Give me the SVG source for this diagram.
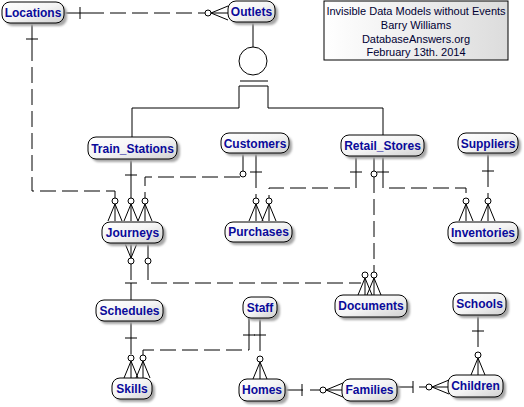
<svg xmlns="http://www.w3.org/2000/svg" xmlns:xlink="http://www.w3.org/1999/xlink" width="524" height="407" viewBox="0 0 524 407">
<style>
.box{fill:url(#ng);stroke:#000;stroke-width:1}
.sh{fill:#a6a6a6;filter:url(#blur)}
.lbl{font-family:"Liberation Sans",Arial,sans-serif;font-size:12px;font-weight:bold;fill:#0a0a9a;text-anchor:middle}
.sol{fill:none;stroke:#000;stroke-width:1}
.dsh{fill:none;stroke:#000;stroke-width:1;stroke-dasharray:16 6}
.ttl{font-family:"Liberation Sans",Arial,sans-serif;font-size:11px;fill:#000033;text-anchor:middle}
</style>
<defs>
<filter id="blur" x="-20%" y="-40%" width="140%" height="180%"><feGaussianBlur stdDeviation="0.9"/></filter>
<linearGradient id="ng" x1="0" y1="0" x2="1" y2="1">
<stop offset="0" stop-color="#ffffff"/>
<stop offset="0.5" stop-color="#f4f4f4"/>
<stop offset="1" stop-color="#d0d0d0"/>
</linearGradient>
<linearGradient id="tg" x1="0" y1="0" x2="1" y2="0">
<stop offset="0" stop-color="#ffffff"/>
<stop offset="1" stop-color="#dcdcdc"/>
</linearGradient>
<g id="cf">
<path d="M0,3 L-7,20 M0,3 L0,20 M0,3 L7,20" fill="none" stroke="#000"/>
<circle cx="0" cy="0" r="3" fill="#fff" stroke="#000"/>
</g>
</defs>
<rect width="524" height="407" fill="#fff"/>

<g id="title">
<rect x="324" y="1" width="184" height="59" fill="url(#tg)" stroke="#000"/>
<text class="ttl" x="416" y="15">Invisible Data Models without Events</text>
<text class="ttl" x="416" y="29">Barry Williams</text>
<text class="ttl" x="416" y="43">DatabaseAnswers.org</text>
<text class="ttl" x="416" y="56">February 13th. 2014</text>
</g>

<g id="connectors">
<!-- Outlets subtype -->
<path class="sol" d="M253,22 V47 M240,81 H268 M132,137 V108 H239 V86 H268 V108 H383 V135"/>
<circle cx="253" cy="61" r="14" fill="#fff" stroke="#000"/>
<!-- Locations-Outlets -->
<path class="sol" d="M64,13 H88 M80,7 V19"/>
<path class="dsh" d="M88,13 H205"/>
<use xlink:href="#cf" transform="translate(208,13) rotate(-90)"/>
<!-- Locations-Journeys -->
<path class="sol" d="M32,23 V45 M26,39 H38"/>
<path class="dsh" d="M32,45 V191 H115 V198"/>
<use xlink:href="#cf" x="115" y="201"/>
<!-- Train_Stations-Journeys -->
<path class="sol" d="M131,159 V198 M125,175 H137"/>
<use xlink:href="#cf" x="131" y="201"/>
<!-- Customers-Journeys -->
<path class="sol" d="M243,153 V171"/>
<path class="dsh" d="M240,177 H145 V198"/>
<circle cx="243" cy="174" r="3" fill="#fff" stroke="#000"/>
<use xlink:href="#cf" x="145" y="201"/>
<!-- Customers-Purchases -->
<path class="sol" d="M256,153 V172 M250,172 H262"/>
<path class="dsh" d="M256,172 V198"/>
<use xlink:href="#cf" x="256" y="201"/>
<!-- Retail_Stores-Purchases -->
<path class="sol" d="M356,156 V172 M350,172 H362"/>
<path class="dsh" d="M356,172 V188 H269 V198"/>
<use xlink:href="#cf" x="269" y="201"/>
<!-- Retail_Stores-Documents -->
<path class="sol" d="M374,156 V171"/>
<circle cx="374" cy="174" r="3" fill="#fff" stroke="#000"/>
<path class="dsh" d="M374,177 V272"/>
<use xlink:href="#cf" x="374" y="275"/>
<!-- Retail_Stores-Inventories -->
<path class="sol" d="M383,156 V172 M377,172 H389"/>
<path class="dsh" d="M383,172 V188 H466 V198"/>
<use xlink:href="#cf" x="466" y="201"/>
<!-- Suppliers-Inventories -->
<path class="sol" d="M488,153 V171 M482,171 H494"/>
<path class="dsh" d="M488,171 V198"/>
<use xlink:href="#cf" x="488" y="201"/>
<!-- Journeys-Schedules -->
<use xlink:href="#cf" transform="translate(131,261) rotate(180)"/>
<path class="dsh" d="M131,264 V283"/>
<path class="sol" d="M131,283 V300 M125,283 H137"/>
<!-- Journeys-Documents -->
<path class="sol" d="M148,243 V258"/>
<circle cx="148" cy="261" r="3" fill="#fff" stroke="#000"/>
<path class="dsh" d="M148,264 V283 H361"/>
<use xlink:href="#cf" x="365" y="275"/>
<!-- Schedules-Skills -->
<path class="sol" d="M131,321 V338 M125,338 H137"/>
<path class="dsh" d="M131,338 V355"/>
<use xlink:href="#cf" x="131" y="358"/>
<!-- Staff-Skills -->
<path class="sol" d="M249,318 V335 M243,335 H255"/>
<path class="dsh" d="M249,335 V350 H143 V355"/>
<use xlink:href="#cf" x="143" y="358"/>
<!-- Staff-Homes -->
<path class="sol" d="M260,318 V335 M254,335 H266"/>
<path class="dsh" d="M260,335 V356"/>
<use xlink:href="#cf" x="260" y="359"/>
<!-- Homes-Families -->
<path class="sol" d="M285,390 H303 M302,384 V396"/>
<path class="dsh" d="M310,390 H320"/>
<use xlink:href="#cf" transform="translate(323,390) rotate(-90)"/>
<!-- Families-Children -->
<path class="sol" d="M397,387 H413 M413,381 V393"/>
<path class="dsh" d="M419,387 H426"/>
<use xlink:href="#cf" transform="translate(429,387) rotate(-90)"/>
<!-- Schools-Children -->
<path class="sol" d="M478,315 V331 M472,331 H484"/>
<path class="dsh" d="M478,331 V352"/>
<use xlink:href="#cf" x="478" y="355"/>
</g>

<g id="Locations"><rect class="sh" x="5" y="5" width="62" height="21" rx="8"/><rect class="box" x="2" y="2" width="62" height="21" rx="8"/><text class="lbl" x="33" y="17">Locations</text></g>
<g id="Outlets"><rect class="sh" x="231" y="4" width="47" height="21" rx="8"/><rect class="box" x="228" y="1" width="47" height="21" rx="8"/><text class="lbl" x="251.5" y="16">Outlets</text></g>
<g id="Train_Stations"><rect class="sh" x="91" y="140" width="89" height="22" rx="8"/><rect class="box" x="88" y="137" width="89" height="22" rx="8"/><text class="lbl" x="132.5" y="153">Train_Stations</text></g>
<g id="Customers"><rect class="sh" x="224" y="136" width="68" height="20" rx="8"/><rect class="box" x="221" y="133" width="68" height="20" rx="8"/><text class="lbl" x="255" y="148">Customers</text></g>
<g id="Retail_Stores"><rect class="sh" x="344" y="138" width="83" height="21" rx="8"/><rect class="box" x="341" y="135" width="83" height="21" rx="8"/><text class="lbl" x="382.5" y="150">Retail_Stores</text></g>
<g id="Suppliers"><rect class="sh" x="461" y="136" width="60" height="20" rx="8"/><rect class="box" x="458" y="133" width="60" height="20" rx="8"/><text class="lbl" x="488" y="148">Suppliers</text></g>
<g id="Journeys"><rect class="sh" x="105" y="225" width="61" height="21" rx="8"/><rect class="box" x="102" y="222" width="61" height="21" rx="8"/><text class="lbl" x="132.5" y="237">Journeys</text></g>
<g id="Purchases"><rect class="sh" x="228" y="225" width="67" height="20" rx="8"/><rect class="box" x="225" y="222" width="67" height="20" rx="8"/><text class="lbl" x="258.5" y="236">Purchases</text></g>
<g id="Inventories"><rect class="sh" x="451" y="225" width="70" height="21" rx="8"/><rect class="box" x="448" y="222" width="70" height="21" rx="8"/><text class="lbl" x="483" y="237">Inventories</text></g>
<g id="Schedules"><rect class="sh" x="99" y="303" width="67" height="21" rx="8"/><rect class="box" x="96" y="300" width="67" height="21" rx="8"/><text class="lbl" x="129.5" y="315">Schedules</text></g>
<g id="Staff"><rect class="sh" x="246" y="300" width="34" height="21" rx="8"/><rect class="box" x="243" y="297" width="34" height="21" rx="8"/><text class="lbl" x="260" y="312">Staff</text></g>
<g id="Documents"><rect class="sh" x="338" y="298" width="72" height="22" rx="8"/><rect class="box" x="335" y="295" width="72" height="22" rx="8"/><text class="lbl" x="371" y="310">Documents</text></g>
<g id="Schools"><rect class="sh" x="456" y="296" width="53" height="22" rx="8"/><rect class="box" x="453" y="293" width="53" height="22" rx="8"/><text class="lbl" x="479.5" y="308">Schools</text></g>
<g id="Skills"><rect class="sh" x="115" y="381" width="40" height="21" rx="8"/><rect class="box" x="112" y="378" width="40" height="21" rx="8"/><text class="lbl" x="132" y="393">Skills</text></g>
<g id="Homes"><rect class="sh" x="242" y="382" width="46" height="22" rx="8"/><rect class="box" x="239" y="379" width="46" height="22" rx="8"/><text class="lbl" x="262" y="394">Homes</text></g>
<g id="Families"><rect class="sh" x="345" y="382" width="55" height="22" rx="8"/><rect class="box" x="342" y="379" width="55" height="22" rx="8"/><text class="lbl" x="369.5" y="394">Families</text></g>
<g id="Children"><rect class="sh" x="451" y="378" width="55" height="22" rx="8"/><rect class="box" x="448" y="375" width="55" height="22" rx="8"/><text class="lbl" x="475.5" y="390">Children</text></g>
</svg>
